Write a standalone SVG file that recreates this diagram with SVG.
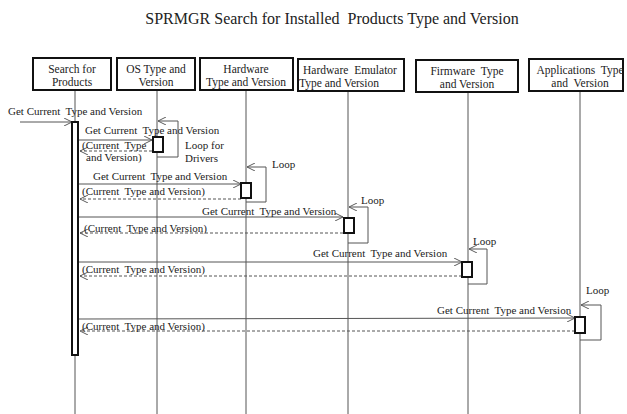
<svg xmlns="http://www.w3.org/2000/svg" width="627" height="414" viewBox="0 0 627 414">
<style>
text{font-family:"Liberation Serif","Times New Roman",serif;fill:#222;white-space:pre}
.t{font-size:16px}
.h{font-size:11.5px;text-anchor:middle}
.m{font-size:11px}
.box{fill:#fff;stroke:#111;stroke-width:2}
.life{stroke:#555;stroke-width:1;fill:none}
.act{fill:#fff;stroke:#111;stroke-width:2}
.msg{stroke:#555;stroke-width:1;fill:none;marker-end:url(#a)}
.ret{stroke:#555;stroke-width:1;fill:none;stroke-dasharray:3 2;marker-end:url(#a)}
.loop{stroke:#555;stroke-width:1;fill:none;marker-end:url(#a)}
</style>
<defs>
<marker id="a" viewBox="0 0 10 10" refX="10" refY="5" markerWidth="8" markerHeight="8" markerUnits="userSpaceOnUse" orient="auto">
<path d="M0,0 L10,5 L0,10" fill="none" stroke="#555" stroke-width="1.2"/>
</marker>
</defs>
<rect width="627" height="414" fill="#fff"/>
<text class="t" x="332" y="24" text-anchor="middle">SPRMGR Search for Installed  Products Type and Version</text>

<g id="lifelines">
<line class="life" x1="75" y1="90" x2="75" y2="414"/>
<line class="life" x1="157" y1="90" x2="157" y2="414"/>
<line class="life" x1="246" y1="91" x2="246" y2="414"/>
<line class="life" x1="348" y1="91" x2="348" y2="414"/>
<line class="life" x1="468" y1="92" x2="468" y2="414"/>
<line class="life" x1="580" y1="91" x2="580" y2="414"/>
</g>

<g id="n1"><rect class="box" x="33" y="58" width="78" height="32"/><text class="h" x="72" y="73">Search for</text><text class="h" x="72" y="86">Products</text></g>
<g id="n2"><rect class="box" x="117" y="58" width="78" height="32"/><text class="h" x="156" y="73">OS Type and</text><text class="h" x="156" y="86">Version</text></g>
<g id="n3"><rect class="box" x="200" y="58" width="93" height="32"/><text class="h" x="246" y="73">Hardware</text><text class="h" x="246" y="86">Type and Version</text></g>
<g id="n4"><rect class="box" x="298" y="59" width="106" height="32"/><text class="h" x="350" y="74">Hardware  Emulator</text><text class="h" x="339" y="87">Type and Version</text></g>
<g id="n5"><rect class="box" x="416" y="60" width="102" height="32"/><text class="h" x="467" y="75">Firmware  Type</text><text class="h" x="467" y="88">and Version</text></g>
<g id="n6"><rect class="box" x="529" y="59" width="94" height="32"/><text class="h" x="580" y="74">Applications  Type</text><text class="h" x="580" y="87">and  Version</text></g>

<g id="connectors">
<line class="msg" x1="20" y1="122" x2="72" y2="122"/>
<text class="m" x="8" y="115">Get Current  Type and Version</text>

<line class="msg" x1="79" y1="140" x2="152" y2="140"/>
<text class="m" x="85" y="134">Get Current  Type and Version</text>
<line class="ret" x1="152" y1="151" x2="80" y2="151"/>
<text class="m" x="82" y="149">(Current  Type</text>
<text class="m" x="86" y="161">and Version)</text>
<polyline class="loop" points="157,157 178,157 178,121 158,121"/>
<text class="m" x="185" y="149">Loop for</text>
<text class="m" x="185" y="162">Drivers</text>

<line class="msg" x1="79" y1="184" x2="241" y2="184"/>
<text class="m" x="93" y="180">Get Current  Type and Version</text>
<line class="ret" x1="241" y1="199" x2="80" y2="199"/>
<text class="m" x="82" y="195">(Current  Type and Version)</text>
<polyline class="loop" points="246,202 266,202 266,167 247,167"/>
<text class="m" x="272" y="168">Loop</text>

<line class="msg" x1="79" y1="217" x2="343" y2="217"/>
<text class="m" x="202" y="215">Get Current  Type and Version</text>
<line class="ret" x1="343" y1="233" x2="80" y2="233"/>
<text class="m" x="84" y="232">(Current  Type and Version)</text>
<polyline class="loop" points="348,243 368,243 368,207 349,207"/>
<text class="m" x="361" y="204">Loop</text>

<line class="msg" x1="79" y1="262" x2="462" y2="262"/>
<text class="m" x="313" y="257">Get Current  Type and Version</text>
<line class="ret" x1="462" y1="276" x2="80" y2="276"/>
<text class="m" x="82" y="273">(Current  Type and Version)</text>
<polyline class="loop" points="468,284 487,284 487,249 469,249"/>
<text class="m" x="473" y="245">Loop</text>

<line class="msg" x1="79" y1="319" x2="575" y2="318"/>
<text class="m" x="437" y="314">Get Current  Type and Version</text>
<line class="ret" x1="575" y1="331" x2="80" y2="331"/>
<text class="m" x="82" y="330">(Current  Type and Version)</text>
<polyline class="loop" points="580,340 601,340 601,305 581,305"/>
<text class="m" x="586" y="294">Loop</text>
</g>

<g id="activations">
<rect class="act" x="72" y="122" width="6" height="233"/>
<rect class="act" x="153" y="137" width="10" height="15"/>
<rect class="act" x="241" y="183" width="10" height="15"/>
<rect class="act" x="344" y="218" width="10" height="15"/>
<rect class="act" x="462" y="262" width="10" height="15"/>
<rect class="act" x="575" y="317" width="10" height="16"/>
</g>
</svg>
